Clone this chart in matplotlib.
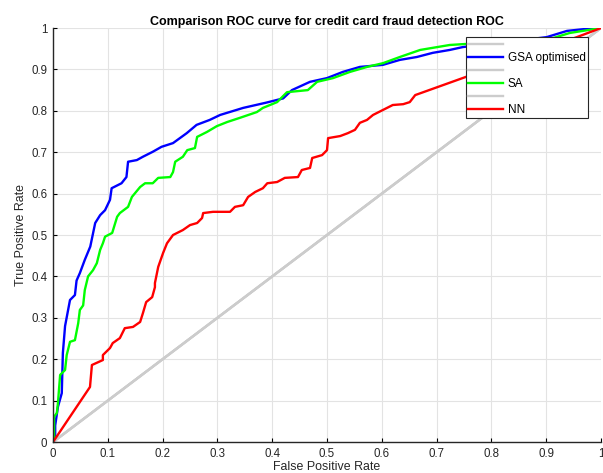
import matplotlib
matplotlib.use("Agg")
import matplotlib.pyplot as plt

plt.rcParams["font.family"] = ["Liberation Sans", "DejaVu Sans"]

# ROC curve points
gsa_fpr = [0, 0.004, 0.004, 0.009, 0.016, 0.018, 0.022, 0.031, 0.040, 0.043, 0.049,
           0.058, 0.068, 0.077, 0.086, 0.095, 0.104, 0.107, 0.125, 0.134, 0.137,
           0.153, 0.164, 0.182, 0.198, 0.219, 0.244, 0.262, 0.286, 0.305, 0.347,
           0.390, 0.420, 0.436, 0.469, 0.500, 0.529, 0.560, 0.602, 0.633, 0.664,
           0.693, 0.724, 0.748, 0.816, 0.901, 0.938, 0.974, 1.0]
gsa_tpr = [0, 0.005, 0.040, 0.085, 0.118, 0.215, 0.280, 0.343, 0.355, 0.390, 0.408,
           0.440, 0.472, 0.529, 0.548, 0.560, 0.585, 0.613, 0.625, 0.640, 0.677,
           0.681, 0.689, 0.701, 0.713, 0.722, 0.746, 0.766, 0.778, 0.790, 0.807,
           0.820, 0.830, 0.850, 0.870, 0.879, 0.894, 0.906, 0.911, 0.923, 0.930,
           0.940, 0.947, 0.954, 0.964, 0.978, 0.993, 0.998, 1.0]

sa_fpr = [0, 0.002, 0.002, 0.007, 0.009, 0.013, 0.022, 0.025, 0.031, 0.040, 0.046,
          0.049, 0.055, 0.058, 0.064, 0.073, 0.080, 0.086, 0.091, 0.095, 0.108,
          0.117, 0.122, 0.137, 0.144, 0.159, 0.168, 0.182, 0.192, 0.214, 0.219,
          0.223, 0.237, 0.245, 0.259, 0.263, 0.281, 0.299, 0.318, 0.341, 0.372,
          0.383, 0.409, 0.427, 0.465, 0.482, 0.511, 0.542, 0.573, 0.602, 0.633,
          0.670, 0.724, 0.748, 0.901, 0.943, 1.0]
sa_tpr = [0, 0.005, 0.061, 0.070, 0.094, 0.162, 0.174, 0.210, 0.242, 0.246, 0.287,
          0.319, 0.330, 0.367, 0.400, 0.415, 0.432, 0.464, 0.480, 0.496, 0.505,
          0.544, 0.553, 0.568, 0.592, 0.616, 0.625, 0.625, 0.638, 0.640, 0.652,
          0.677, 0.689, 0.705, 0.710, 0.737, 0.749, 0.763, 0.773, 0.783, 0.797,
          0.807, 0.821, 0.845, 0.850, 0.870, 0.879, 0.894, 0.906, 0.915, 0.930,
          0.947, 0.959, 0.961, 0.971, 0.988, 1.0]

nn_fpr = [0, 0.0675, 0.071, 0.091, 0.091, 0.104, 0.109, 0.122, 0.131, 0.146, 0.159,
          0.164, 0.170, 0.181, 0.186, 0.186, 0.192, 0.201, 0.208, 0.219, 0.237,
          0.250, 0.263, 0.272, 0.274, 0.292, 0.323, 0.332, 0.347, 0.356, 0.369,
          0.383, 0.391, 0.409, 0.423, 0.447, 0.454, 0.469, 0.473, 0.491, 0.500,
          0.502, 0.524, 0.538, 0.551, 0.560, 0.573, 0.584, 0.602, 0.620, 0.639,
          0.651, 0.661, 0.956, 1.0]
nn_tpr = [0, 0.133, 0.186, 0.198, 0.210, 0.227, 0.239, 0.251, 0.275, 0.278, 0.290,
          0.311, 0.338, 0.350, 0.374, 0.384, 0.423, 0.457, 0.480, 0.500, 0.512,
          0.524, 0.529, 0.541, 0.553, 0.556, 0.556, 0.568, 0.572, 0.592, 0.604,
          0.613, 0.625, 0.628, 0.638, 0.640, 0.657, 0.662, 0.686, 0.693, 0.705,
          0.734, 0.739, 0.746, 0.754, 0.771, 0.778, 0.790, 0.802, 0.814, 0.816,
          0.821, 0.838, 0.978, 1.0]

chance = [0, 1]
ticks = [0, 0.1, 0.2, 0.3, 0.4, 0.5, 0.6, 0.7, 0.8, 0.9, 1]
tick_labels = ["0", "0.1", "0.2", "0.3", "0.4", "0.5", "0.6", "0.7", "0.8", "0.9", "1"]

text_color = "#262626"
fig = plt.figure(figsize=(6.03, 4.73), dpi=100)
ax = fig.add_axes([0.0879, 0.0655, 0.9088, 0.8753])

lw = 1.7
ax.plot(chance, chance, color="#cccccc", lw=lw, label=" ")
ax.plot(gsa_fpr, gsa_tpr, color="#0000ff", lw=lw, label="GSA optimised")
ax.plot(chance, chance, color="#cccccc", lw=lw, label=" ")
ax.plot(sa_fpr, sa_tpr, color="#00ff00", lw=lw, label="SA")
ax.plot(chance, chance, color="#cccccc", lw=lw, label=" ")
ax.plot(nn_fpr, nn_tpr, color="#ff0000", lw=lw, label="NN")

ax.set_xlim(0, 1)
ax.set_ylim(0, 1)
ax.set_xticks(ticks)
ax.set_xticklabels(tick_labels)
ax.set_yticks(ticks)
ax.set_yticklabels(tick_labels)
ax.tick_params(direction="in", length=3, width=0.8, labelsize=8.3,
               colors="black", labelcolor=text_color, pad=4)
ax.grid(True, color="#e3e3e3", lw=0.8)
ax.set_axisbelow(True)
for side in ["top", "right"]:
    ax.spines[side].set_visible(False)
for side in ["left", "bottom"]:
    ax.spines[side].set_color("#262626")
    ax.spines[side].set_linewidth(1.0)

ax.set_xlabel("False Positive Rate", fontsize=8.9, color=text_color, labelpad=1)
ax.set_ylabel("True Positive Rate", fontsize=8.9, color=text_color, labelpad=3)
ax.set_title("Comparison ROC curve for credit card fraud detection ROC",
             fontsize=9, fontweight="bold", color="black", pad=2.5)

leg = ax.legend(loc="upper right", bbox_to_anchor=(0.976, 0.978), fontsize=8.5,
                frameon=True, fancybox=False, framealpha=1, edgecolor="#262626",
                handlelength=2.95, handletextpad=0.45, labelspacing=0.08,
                borderpad=0.18, borderaxespad=0)
leg.get_frame().set_linewidth(0.8)

fig.savefig("out.png", dpi=100)
